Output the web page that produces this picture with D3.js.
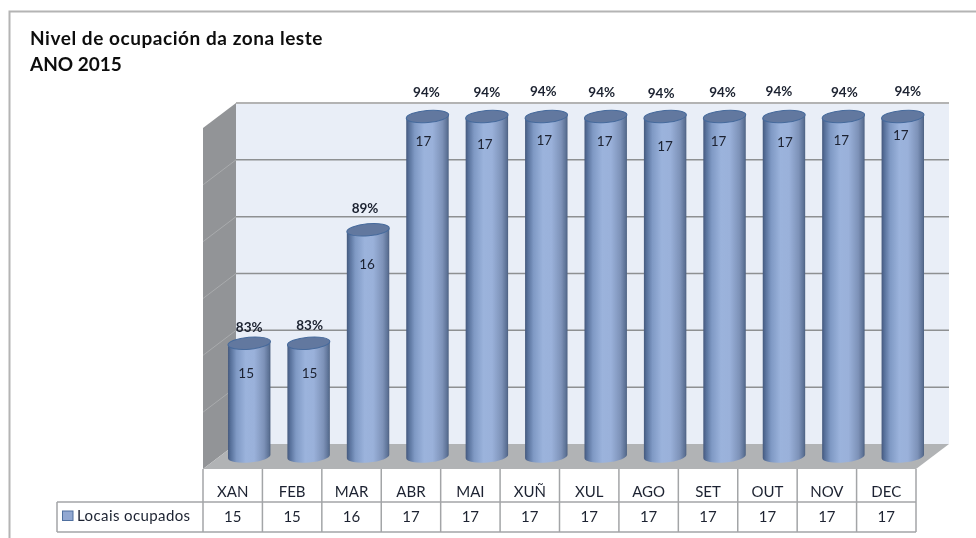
<!DOCTYPE html>
<html><head><meta charset="utf-8">
<script src="https://cdnjs.cloudflare.com/ajax/libs/d3/7.8.5/d3.min.js"></script>
<style>html,body{margin:0;padding:0;background:#fff}svg{display:block}text{font-family:Lato,"Open Sans",sans-serif;fill:#1c2230}</style>
</head><body><svg id="c" width="976" height="538"></svg>
<script>
const titleLines = ["Nivel de ocupación da zona leste", "ANO 2015"];
const months = ["XAN","FEB","MAR","ABR","MAI","XUÑ","XUL","AGO","SET","OUT","NOV","DEC"];
const seriesName = "Locais ocupados";
const occupied = [15,15,16,17,17,17,17,17,17,17,17,17];
const percentLabels = ["83%","83%","89%","94%","94%","94%","94%","94%","94%","94%","94%","94%"];
const axisMin = 14, axisMax = 17, axisStep = 0.5;

// Hand-placed label offsets of the reference, kept apart from the data
const pctDx = [0,1,-3,-1,0,-3,-4,-4,-2,-5,1,5];
const pctDy = [-16,-18,-22,-24.5,-24.5,-25.5,-24.5,-23.5,-24.5,-25.5,-24.5,-25.5];
const valDx = [-3,1,-1,-4,-2,-2,-1,0,-6,1,-2,-2];
const valDy = [30,30,34,25,28,24,25,30,25,26,24,19];

const svg = d3.select("#c");
const defs = svg.append("defs");
const soft = defs.append("filter").attr("id","soft").attr("x","-5%").attr("y","-5%").attr("width","110%").attr("height","110%");
soft.append("feGaussianBlur").attr("stdDeviation",0.35);
const grad = defs.append("linearGradient").attr("id","cyl").attr("x1","0").attr("x2","1").attr("y1","0").attr("y2","0");
[[0,"#45597d"],[0.06,"#566f99"],[0.2,"#7f99c4"],[0.42,"#9bb3dc"],[0.62,"#9ab1da"],[0.85,"#7d92b8"],[0.96,"#5d7296"],[1,"#4c6080"]]
  .forEach(([o,c])=>grad.append("stop").attr("offset",o).attr("stop-color",c));

const root = svg.append("g").attr("filter","url(#soft)");
const depthX = 33, depthY = 25;
const xFront = d3.scaleBand().domain(months).range([203,916]);
const yWall = d3.scaleLinear().domain([axisMin,axisMax]).range([444,103]);
const yBar = d3.scaleLinear().domain([axisMin,axisMax]).range([456.5,116.5]);
const barX = m => xFront(m) + xFront.bandwidth()/2 + 16.5;
const wallL = xFront.range()[0]+depthX, wallR = xFront.range()[1]+depthX;
const line = "#a3a5a7";

// frame
root.append("path").attr("d","M976,11.5H9.5V538").attr("fill","none").attr("stroke","#b4b4b4").attr("stroke-width",2);

// walls
root.append("rect").attr("x",wallL).attr("y",yWall(axisMax)).attr("width",wallR-wallL).attr("height",yWall(axisMin)-yWall(axisMax)).attr("fill","#e9eef7");
root.append("path").attr("fill","#929497")
  .attr("d",d3.line()([[wallL-depthX,yWall(axisMax)+depthY],[wallL,yWall(axisMax)],[wallL,yWall(axisMin)],[wallL-depthX,yWall(axisMin)+depthY]])+"Z");
root.append("path").attr("fill","#b1b3b5")
  .attr("d",d3.line()([[wallL,yWall(axisMin)],[wallR,yWall(axisMin)],[wallR-depthX,yWall(axisMin)+depthY],[wallL-depthX,yWall(axisMin)+depthY]])+"Z");

// gridlines from the value axis
const gridVals = d3.range(axisMin,axisMax+axisStep/2,axisStep);
const grid = root.append("g").selectAll("g").data(gridVals.slice(1)).join("g");
grid.append("line").attr("x1",wallL).attr("x2",wallR).attr("y1",yWall).attr("y2",yWall)
  .attr("stroke",d=>d===axisMax?"#b3b3b3":"#8e9092").attr("stroke-width",d=>d===axisMax?2:1.5);
grid.filter(d=>d<axisMax).append("line").attr("x1",wallL).attr("x2",wallL-depthX)
  .attr("y1",yWall).attr("y2",d=>yWall(d)+depthY).attr("stroke","#a9abad").attr("stroke-width",1);

// cylinders
const rx = 21.3, ry = 6, tilt = 5, rad = tilt*Math.PI/180;
const bars = root.append("g").selectAll("g").data(months.map((m,i)=>({m,v:occupied[i],i}))).join("g");
bars.append("path").attr("fill","url(#cyl)").attr("d",d=>{
  const c=barX(d.m), t=yBar(d.v), b=yBar(axisMin), dx=rx*Math.cos(rad), dy=rx*Math.sin(rad);
  return `M${c-dx},${t+dy}L${c-dx},${b+dy}A${rx},${ry} ${-tilt} 0 0 ${c+dx},${b-dy}L${c+dx},${t-dy}Z`;
});
bars.append("ellipse").attr("cx",d=>barX(d.m)).attr("cy",d=>yBar(d.v)).attr("rx",rx).attr("ry",ry)
  .attr("transform",d=>`rotate(${-tilt} ${barX(d.m)} ${yBar(d.v)})`)
  .attr("fill","#62789f").attr("stroke","#466a9c").attr("stroke-width",1);

// labels on bars
bars.append("text").attr("x",d=>barX(d.m)+valDx[d.i]).attr("y",d=>yBar(d.v)+valDy[d.i]).attr("dy","0.35em")
  .attr("text-anchor","middle").attr("font-size",13.5).text(d=>d.v);
bars.append("text").attr("x",d=>barX(d.m)+pctDx[d.i]).attr("y",d=>yBar(d.v)+pctDy[d.i]).attr("dy","0.35em")
  .attr("text-anchor","middle").attr("font-size",13.5).attr("font-weight",700).text(d=>percentLabels[d.i]);

// data table
const rowTop = yWall(axisMin)+depthY, rowMid = 502, rowBot = 532, legendL = 57;
const table = root.append("g").attr("stroke",line).attr("stroke-width",1.5).attr("fill","none");
const colEdges = months.map(m=>xFront(m)).concat(xFront.range()[1]);
table.selectAll("line.col").data(colEdges).join("line").attr("class","col")
  .attr("x1",d=>d).attr("x2",d=>d).attr("y1",rowTop).attr("y2",rowBot);
table.append("line").attr("x1",legendL).attr("x2",xFront.range()[1]).attr("y1",rowMid).attr("y2",rowMid);
table.append("line").attr("x1",legendL).attr("x2",xFront.range()[1]).attr("y1",rowBot).attr("y2",rowBot);
table.append("line").attr("x1",legendL).attr("x2",legendL).attr("y1",rowMid).attr("y2",rowBot);
root.append("g").selectAll("text").data(months).join("text")
  .attr("x",m=>xFront(m)+xFront.bandwidth()/2).attr("y",(rowTop+rowMid)/2+6).attr("dy","0.35em")
  .attr("text-anchor","middle").attr("font-size",15).text(m=>m);
root.append("g").selectAll("text").data(occupied).join("text")
  .attr("x",(d,i)=>xFront(months[i])+xFront.bandwidth()/2).attr("y",(rowMid+rowBot)/2).attr("dy","0.35em")
  .attr("text-anchor","middle").attr("font-size",15).text(d=>d);
root.append("rect").attr("x",62.5).attr("y",511).attr("width",10.5).attr("height",9.5).attr("fill","#92a8d2").attr("stroke","#4f6f9f").attr("stroke-width",1);
root.append("text").attr("x",77).attr("y",516).attr("dy","0.35em").attr("font-size",15).attr("letter-spacing",0.4).text(seriesName);

// title
root.append("g").selectAll("text").data(titleLines).join("text")
  .attr("x",30).attr("y",(d,i)=>45+i*26).attr("font-size",19).attr("font-weight",700).attr("letter-spacing",(d,i)=>i?0:0.55).attr("style","fill:#111").text(d=>d);
</script></body></html>
